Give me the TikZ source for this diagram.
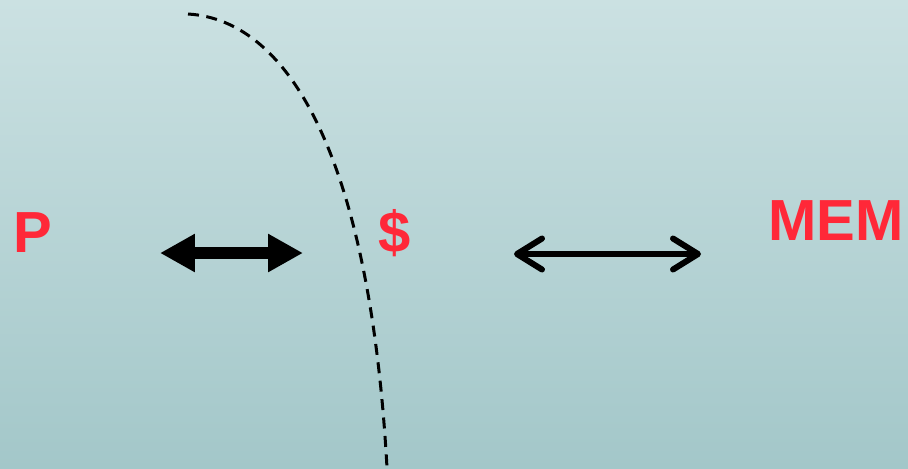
\documentclass[tikz,border=0pt]{standalone}
\usepackage{fontspec}
\setmainfont{Liberation Sans}
\usetikzlibrary{arrows.meta}
\definecolor{seatop}{RGB}{203,225,226}
\definecolor{seabot}{RGB}{163,199,201}
\definecolor{lblred}{RGB}{255,40,56}

\tikzset{
  lbl/.style={text=lblred,font=\fontsize{33}{33}\selectfont\bfseries,inner sep=0pt},
  fatarrow/.style={line width=0.24cm,{Triangle[length=0.7cm,width=0.72cm]}-{Triangle[length=0.7cm,width=0.72cm]}},
  thinarrow/.style={line width=0.12cm,line cap=round,{Straight Barb[length=0.5cm,width=0.62cm,round]}-{Straight Barb[length=0.5cm,width=0.62cm,round]}}
}

\begin{document}
\begin{tikzpicture}[x=0.02cm,y=-0.02cm]
  \useasboundingbox (0,0) rectangle (908,468);
  \clip (0,0) rectangle (908,468);
  \shade[top color=seatop,bottom color=seabot] (0,0) rectangle (908,468);
  % boundary
  \coordinate (bt) at (188,14);
  \coordinate (bb) at (387,468);
  \draw[line width=0.06cm,dash pattern=on 0.22cm off 0.15cm] (bt) .. controls (290,20) and (370,160) .. (bb);
  % labels
  \node[lbl,anchor=base west] (proc) at (13,252) {P};
  \node[lbl,anchor=base] (cache) at (395,252) {\$};
  \node[lbl,anchor=base west] (mem) at (768,240) {MEM};
  % links
  \coordinate (al) at (160,253);
  \coordinate (ar) at (303,253);
  \coordinate (bl) at (514,254);
  \coordinate (br) at (701,254);
  \draw[fatarrow] (al)--(ar);
  \draw[thinarrow] (bl)--(br);
\end{tikzpicture}
\end{document}
